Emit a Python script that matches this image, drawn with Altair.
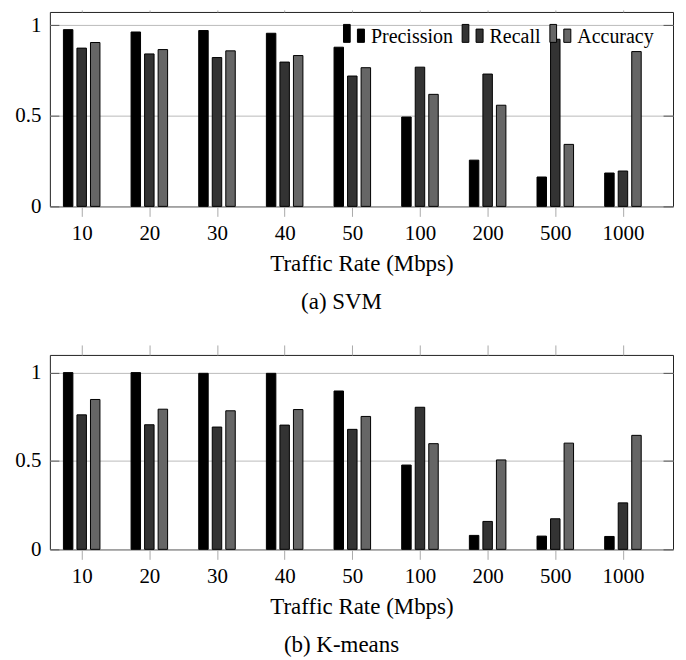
import altair as alt
import pandas as pd

categories = ["10", "20", "30", "40", "50", "100", "200", "500", "1000"]
series = ["Precission", "Recall", "Accuracy"]
colors = ["#000000", "#333333", "#666666"]

svm_precision = [0.975, 0.962, 0.970, 0.955, 0.878, 0.493, 0.255, 0.162, 0.184]
svm_recall = [0.873, 0.841, 0.821, 0.796, 0.719, 0.768, 0.730, 0.922, 0.195]
svm_accuracy = [0.904, 0.865, 0.858, 0.832, 0.765, 0.618, 0.558, 0.342, 0.854]

km_precision = [1.0, 1.0, 0.996, 0.996, 0.896, 0.477, 0.079, 0.075, 0.073]
km_recall = [0.761, 0.705, 0.692, 0.703, 0.679, 0.804, 0.158, 0.173, 0.263]
km_accuracy = [0.848, 0.793, 0.784, 0.791, 0.752, 0.598, 0.506, 0.601, 0.645]

FONT = "Liberation Serif"
LEGEND_PATH = "M-1,-1.19H-0.36V0.524H-1Z M0.33,-0.743H1V0.524H0.33Z"


def make_df(p, r, a):
    rows = []
    for i, c in enumerate(categories):
        for k, (s, vals) in enumerate(zip(series, [p, r, a])):
            rows.append({"idx": i, "cat": c, "series": s, "k": k, "value": vals[i]})
    return pd.DataFrame(rows)


label_expr = "[" + ",".join("'%s'" % c for c in categories) + "][datum.value]"


def panel(df, ymax, caption, top_tick):
    base = alt.Chart(df).transform_calculate(
        x0="datum.idx + (datum.k - 1) * 0.2 - 0.07",
        x1="datum.idx + (datum.k - 1) * 0.2 + 0.07",
    )
    xscale = alt.Scale(domain=[-0.47, 8.74], nice=False, zero=False)
    yscale = alt.Scale(domain=[0, ymax], nice=False)
    y_left = alt.Y(
        "value:Q",
        scale=yscale,
        axis=alt.Axis(
            values=[0, 0.5, 1],
            format=".1~f",
            title=None,
            grid=True,
            gridColor="#bbbbbb",
            ticks=True,
            tickSize=9,
            tickColor="#555555",
            offset=-9,
            domain=False,
            labelPadding=9,
            labelFont=FONT,
            labelFontSize=21,
            labelColor="black",
        ),
    )
    y_right = alt.Y(
        "value:Q",
        scale=yscale,
        axis=alt.Axis(
            orient="right",
            values=[0, 0.5, 1],
            title=None,
            grid=False,
            labels=False,
            ticks=True,
            tickSize=10,
            tickColor="#555555",
            offset=-10,
            domain=False,
        ),
    )
    bars = base.mark_bar(stroke="black", strokeWidth=1).encode(
        x=alt.X(
            "x0:Q",
            scale=xscale,
            axis=alt.Axis(
                values=list(range(len(categories))),
                labelExpr=label_expr,
                title="Traffic Rate (Mbps)",
                grid=False,
                domain=False,
                tickColor="#aaaaaa",
                tickSize=10,
                labelPadding=6,
                titlePadding=9,
                labelFont=FONT,
                labelFontSize=21,
                labelColor="black",
                titleFont=FONT,
                titleFontSize=23,
                titleFontWeight="normal",
                titleColor="black",
            ),
        ),
        x2="x1:Q",
        y=y_left,
        y2=alt.datum(0),
        color=alt.Color(
            "series:N",
            scale=alt.Scale(domain=series, range=colors),
            legend=alt.Legend(
                title=None,
                orient="none",
                legendX=294,
                legendY=14,
                direction="horizontal",
                symbolType=LEGEND_PATH,
                symbolSize=441,
                symbolStrokeColor="black",
                symbolStrokeWidth=1,
                symbolOpacity=1,
                labelFont=FONT,
                labelFontSize=20,
                labelColor="black",
                labelOffset=6,
                columnPadding=6,
                padding=0,
            ),
        ),
    )
    top = base.mark_bar(opacity=0).encode(
        x=alt.X(
            "x0:Q",
            scale=xscale,
            axis=alt.Axis(
                orient="top",
                values=list(range(len(categories))),
                labels=False,
                title=None,
                grid=False,
                domain=False,
                tickColor="#aaaaaa",
                tickSize=top_tick,
            ),
        ),
        x2="x1:Q",
        y=y_right,
        y2=alt.datum(0),
    )
    return alt.layer(bars, top).resolve_axis(x="independent", y="independent").properties(
        width=625,
        height=195,
        title=alt.TitleParams(
            caption,
            orient="bottom",
            anchor="middle",
            font=FONT,
            fontSize=23,
            fontWeight="normal",
            color="black",
            offset=16,
            dx=-20,
        ),
    )


svm = panel(make_df(svm_precision, svm_recall, svm_accuracy), 1.0725, "(a) SVM", 2)
km = panel(make_df(km_precision, km_recall, km_accuracy), 1.1, "(b) K-means", 10)

chart = (
    alt.vconcat(svm, km, spacing=29)
    .properties(padding={"left": 6, "top": 0, "right": 4, "bottom": 0})
    .configure_view(stroke="#222222", strokeWidth=1)
)

chart.save("out.html", embed_options={"renderer": "svg", "actions": False})
